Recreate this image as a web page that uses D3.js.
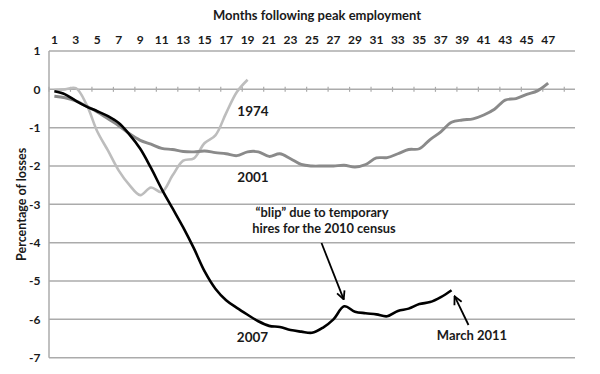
<!DOCTYPE html>
<html>
<head>
<meta charset="utf-8">
<script src="https://cdn.jsdelivr.net/npm/d3@7"></script>
<style>
    body { margin: 0; background: #fff; }
    #chart { width: 600px; height: 374px; }
    text { font-family: Lato, "Open Sans", sans-serif; font-weight: bold; fill: #1a1a1a; }
</style>
</head>
<body>
<div id="chart"></div>
<script>
// months on the x axis (category axis, 49 slots, every other one labelled)
const months = d3.range(1, 50);
const monthLabels = d3.range(1, 48, 2);
const yTicks = [1, 0, -1, -2, -3, -4, -5, -6, -7];

// percentage of losses
const series1974 = [-0.02, 0.0, 0.03, -0.4, -1.1, -1.6, -2.12, -2.5, -2.76, -2.56,
    -2.68, -2.25, -1.86, -1.8, -1.4, -1.2, -0.62, -0.07, 0.25];
const series2001 = [-0.18, -0.22, -0.3, -0.44, -0.59, -0.77, -0.95, -1.16, -1.33, -1.43,
    -1.54, -1.57, -1.62, -1.63, -1.61, -1.65, -1.68, -1.73, -1.63, -1.63,
    -1.75, -1.68, -1.81, -1.96, -2.0, -2.0, -2.0, -1.98, -2.03, -1.96,
    -1.79, -1.78, -1.68, -1.57, -1.55, -1.31, -1.11, -0.86, -0.8, -0.77,
    -0.67, -0.52, -0.28, -0.24, -0.13, -0.04, 0.16];
const series2007 = [-0.05, -0.13, -0.3, -0.45, -0.57, -0.7, -0.88, -1.18, -1.55, -2.05,
    -2.6, -3.1, -3.6, -4.15, -4.75, -5.2, -5.5, -5.7, -5.88, -6.05,
    -6.17, -6.2, -6.28, -6.32, -6.35, -6.22, -6.0, -5.66, -5.8, -5.84,
    -5.87, -5.92, -5.78, -5.72, -5.6, -5.55, -5.42, -5.24];


class LossChart {
    constructor(parentElement) {
        this.parentElement = parentElement;
        this.initVis();
    }

    initVis() {
        let vis = this;

        vis.width = 600;
        vis.height = 374;
        vis.margin = {top: 51, right: 25, bottom: 16.3, left: 49};

        vis.svg = d3.select("#" + vis.parentElement).append("svg")
            .attr("width", vis.width)
            .attr("height", vis.height);

        // x: category slots centred on the month number
        vis.x = d3.scaleLinear()
            .domain([0.5, months.length + 0.5])
            .range([vis.margin.left, vis.width - vis.margin.right]);

        vis.y = d3.scaleLinear()
            .domain([-7, 1])
            .range([vis.height - vis.margin.bottom, vis.margin.top]);

        vis.drawAxes();
        vis.drawLines();
        vis.drawNotes();
    }

    drawAxes() {
        let vis = this;
        let x0 = vis.x.range()[0], x1 = vis.x.range()[1];

        // horizontal gridlines
        vis.svg.append("g")
            .selectAll("line")
            .data(yTicks)
            .enter()
            .append("line")
            .attr("x1", x0)
            .attr("x2", x1)
            .attr("y1", d => vis.y(d))
            .attr("y2", d => vis.y(d))
            .style("stroke", "#ababab")
            .style("stroke-width", 1.5);

        // y axis line
        vis.svg.append("line")
            .attr("x1", x0).attr("x2", x0)
            .attr("y1", vis.y(1)).attr("y2", vis.y(-7))
            .style("stroke", "#ababab")
            .style("stroke-width", 1.5);

        // small tick marks on the zero line, every other slot boundary
        vis.svg.append("g")
            .selectAll("line")
            .data(d3.range(0.5, months.length, 2))
            .enter()
            .append("line")
            .attr("x1", d => vis.x(d))
            .attr("x2", d => vis.x(d))
            .attr("y1", vis.y(0) - 2.5)
            .attr("y2", vis.y(0) + 2.5)
            .style("stroke", "#ababab")
            .style("stroke-width", 1.2);

        // y labels
        vis.svg.append("g")
            .selectAll("text")
            .data(yTicks)
            .enter()
            .append("text")
            .attr("x", x0 - 8.5)
            .attr("y", d => vis.y(d) + 4.2)
            .attr("text-anchor", "end")
            .style("font-size", "12px")
            .text(d => d);

        // month labels along the top
        vis.svg.append("g")
            .selectAll("text")
            .data(monthLabels)
            .enter()
            .append("text")
            .attr("x", d => vis.x(d))
            .attr("y", 43.5)
            .attr("text-anchor", "middle")
            .style("font-size", "12px")
            .text(d => d);

        // axis titles
        vis.svg.append("text")
            .attr("x", 317)
            .attr("y", 20)
            .attr("text-anchor", "middle")
            .style("font-size", "13px")
            .text("Months following peak employment");

        vis.svg.append("text")
            .attr("transform", `translate(25.5, ${(vis.y(1) + vis.y(-7)) / 2}) rotate(-90)`)
            .attr("text-anchor", "middle")
            .style("font-size", "12.5px")
            .text("Percentage of losses");
    }

    drawLines() {
        let vis = this;

        let line = d3.line()
            .x((d, i) => vis.x(months[i]))
            .y(d => vis.y(d))
            .curve(d3.curveCatmullRom.alpha(0.5));

        let lines = [
            {data: series1974, color: "#bdbdbd", w: 2.6},
            {data: series2001, color: "#8a8a8a", w: 2.9},
            {data: series2007, color: "#000", w: 2.6}
        ];

        vis.svg.append("g")
            .selectAll("path")
            .data(lines)
            .enter()
            .append("path")
            .attr("d", d => line(d.data))
            .style("fill", "none")
            .style("stroke", d => d.color)
            .style("stroke-width", d => d.w)
            .style("stroke-linejoin", "round");
    }

    drawNotes() {
        let vis = this;

        // series names
        let names = [
            {t: "1974", x: 253, y: 115.5},
            {t: "2001", x: 253, y: 182},
            {t: "2007", x: 252.5, y: 342}
        ];
        vis.svg.append("g")
            .selectAll("text")
            .data(names)
            .enter()
            .append("text")
            .attr("x", d => d.x)
            .attr("y", d => d.y)
            .attr("text-anchor", "middle")
            .style("font-size", "13.5px")
            .text(d => d.t);

        // open arrow head
        vis.svg.append("defs").append("marker")
            .attr("id", "head")
            .attr("viewBox", "0 0 10 10")
            .attr("refX", 9).attr("refY", 5)
            .attr("markerWidth", 10).attr("markerHeight", 10)
            .attr("markerUnits", "userSpaceOnUse")
            .attr("orient", "auto")
            .append("path")
            .attr("d", "M1,1 L9,5 L1,9")
            .style("fill", "none")
            .style("stroke", "#000")
            .style("stroke-width", 1.8);

        // blip note
        let blip = vis.svg.append("text")
            .attr("text-anchor", "middle")
            .style("font-size", "12.8px");
        blip.append("tspan").attr("x", 322).attr("y", 217).text("\u201cblip\u201d due to temporary");
        blip.append("tspan").attr("x", 324).attr("y", 233).text("hires for the 2010 census");

        let blipX = vis.x(28), blipY = vis.y(series2007[27]);
        vis.svg.append("line")
            .attr("x1", 321.5).attr("y1", 243)
            .attr("x2", blipX - 0.5).attr("y2", blipY - 7)
            .attr("marker-end", "url(#head)")
            .style("stroke", "#000")
            .style("stroke-width", 1.8);

        // last point note
        vis.svg.append("text")
            .attr("x", 472)
            .attr("y", 339.5)
            .attr("text-anchor", "middle")
            .style("font-size", "13px")
            .text("March 2011");

        let endX = vis.x(38), endY = vis.y(series2007[37]);
        vis.svg.append("line")
            .attr("x1", 468.5).attr("y1", 325)
            .attr("x2", endX + 3).attr("y2", endY + 6)
            .attr("marker-end", "url(#head)")
            .style("stroke", "#000")
            .style("stroke-width", 1.8);
    }
}

new LossChart("chart");
</script>
</body>
</html>
